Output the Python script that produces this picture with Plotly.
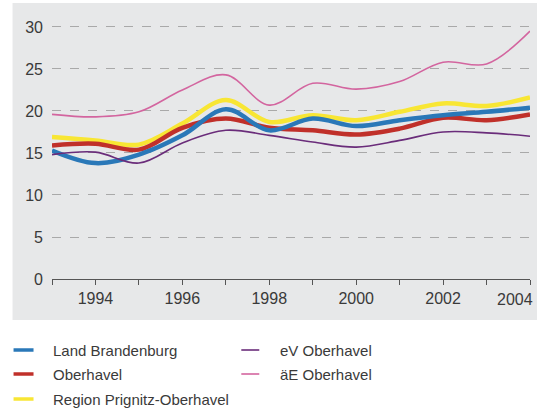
import plotly.graph_objects as go

years = list(range(1993, 2005))
land_brandenburg = [15.3, 13.8, 14.8, 17.1, 20.2, 17.7, 19.1, 18.2, 18.9, 19.5, 19.9, 20.4]
oberhavel = [15.9, 16.1, 15.4, 18.0, 19.1, 18.0, 17.7, 17.2, 17.9, 19.2, 18.9, 19.6]
region_prignitz = [16.9, 16.5, 16.0, 18.5, 21.3, 18.7, 19.5, 18.9, 19.9, 20.9, 20.6, 21.6]
ev_oberhavel = [14.8, 15.1, 13.8, 16.2, 17.7, 17.1, 16.3, 15.7, 16.5, 17.5, 17.4, 17.0]
ae_oberhavel = [19.6, 19.3, 19.9, 22.5, 24.3, 20.7, 23.3, 22.6, 23.5, 25.8, 25.6, 29.5]

x_tickvals = years
x_ticktext = ["" if y % 2 else str(y) for y in years]
y_tickvals = [0, 5, 10, 15, 20, 25, 30]

series = [
    ("Land Brandenburg", land_brandenburg, "#2a78b8", 4.5),
    ("Oberhavel", oberhavel, "#c0302a", 4.5),
    ("Region Prignitz-Oberhavel", region_prignitz, "#f8e634", 4.5),
    ("eV Oberhavel", ev_oberhavel, "#6a2c7a", 1.6),
    ("äE Oberhavel", ae_oberhavel, "#d3659f", 1.6),
]

W, H = 537, 414
ML, MR, MT, MB = 51.5, 7, 19, 135
PW = W - ML - MR
PH = H - MT - MB

def px_x(x):
    return (x - ML) / PW

def px_y(y):
    return (H - MB - y) / PH

fig = go.Figure()
for i in [2, 1, 0, 3, 4]:
    name, vals, color, width = series[i]
    fig.add_trace(go.Scatter(
        x=years, y=vals, mode="lines", name=name,
        line=dict(color=color, width=width, shape="spline", smoothing=1.0),
        showlegend=False,
    ))

shapes = [dict(type="rect", xref="paper", yref="paper",
               x0=px_x(12), x1=px_x(537), y0=px_y(320), y1=px_y(3),
               fillcolor="#e7e8e9", line=dict(width=0), layer="below")]
annotations = []
legend_pos = [
    (0, 13, 33, 50, 350),
    (1, 13, 33, 50, 374),
    (2, 13, 33, 50, 399),
    (3, 241, 259, 278, 350),
    (4, 241, 259, 278, 374),
]
for idx, lx0, lx1, tx, ty in legend_pos:
    name, vals, color, width = series[idx]
    shapes.append(dict(type="line", xref="paper", yref="paper",
                       x0=px_x(lx0), x1=px_x(lx1), y0=px_y(ty), y1=px_y(ty),
                       line=dict(color=color, width=3.5 if width > 2 else 1.6)))
    annotations.append(dict(xref="paper", yref="paper", x=px_x(tx), y=px_y(ty),
                            xanchor="left", yanchor="middle", text=name, showarrow=False,
                            font=dict(size=15, color="#3a3a3a")))

# last tick label sits inside the picture edge, as in the reference
last_label = x_ticktext[-1]
x_ticktext_axis = x_ticktext[:-1] + [""]
annotations.append(dict(xref="x", yref="paper", x=x_tickvals[-1], y=px_y(299),
                        xanchor="right", yanchor="middle", xshift=5, text=last_label,
                        showarrow=False, font=dict(size=16, color="#3a3a3a")))

fig.update_layout(
    width=W, height=H,
    margin=dict(l=ML, r=MR, t=MT, b=MB, autoexpand=False),
    paper_bgcolor="white", plot_bgcolor="#e7e8e9",
    font=dict(family="Liberation Sans, Arial, sans-serif", size=15, color="#3a3a3a"),
    shapes=shapes, annotations=annotations,
    xaxis=dict(range=[1993, 2004], tickmode="array", tickvals=x_tickvals, ticktext=x_ticktext_axis,
               showgrid=False, zeroline=False, showline=True, linecolor="#555", linewidth=1,
               ticks="outside", ticklen=5, tickcolor="#555",
               automargin=False, tickfont=dict(size=16, color="#3a3a3a")),
    yaxis=dict(range=[0, 30.95], tickmode="array", tickvals=y_tickvals,
               showgrid=True, gridcolor="#a9a9a9", griddash="dash", gridwidth=1,
               zeroline=False, showline=False, ticks="", ticklabelstandoff=8,
               automargin=False, tickfont=dict(size=16, color="#3a3a3a")),
)

fig.write_html("out.html", config={"displayModeBar": False},
               post_script="document.body.style.margin='0';")
